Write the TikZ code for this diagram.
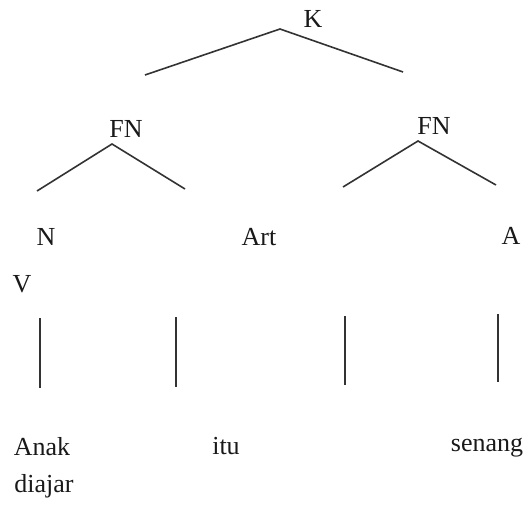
\documentclass[tikz,border=0pt]{standalone}
\usepackage{fontspec}
\setmainfont{Liberation Serif}
\begin{document}
\begin{tikzpicture}[x=1pt,y=-1pt,
  lbl/.style={anchor=base,inner sep=0pt,text=black!90,font=\fontsize{26}{30}\selectfont},
  edge/.style={draw=black!80,line width=1.6pt}]
\useasboundingbox (0,0) rectangle (529,505);
% labels
\node[lbl] (K) at (313,28) {K};
\node[lbl] (FNl) at (126,138) {FN};
\node[lbl] (FNr) at (434,135) {FN};
\node[lbl] (N) at (46,245) {N};
\node[lbl] (Art) at (259,245) {Art};
\node[lbl] (A) at (511,244) {A};
\node[lbl] (V) at (22,292) {V};
\node[lbl] (Anak) at (42,455) {Anak};
\node[lbl] (itu) at (226,454) {itu};
\node[lbl] (senang) at (487,451) {senang};
\node[lbl] (diajar) at (44,492) {diajar};
% line end points
\coordinate (k0) at (280,29);
\coordinate (k1) at (145,75);
\coordinate (k2) at (403,72);
\coordinate (f0) at (112,144);
\coordinate (f1) at (37,191);
\coordinate (f2) at (185,189);
\coordinate (g0) at (418,141);
\coordinate (g1) at (343,187);
\coordinate (g2) at (496,185);
\coordinate (v1a) at (40,318);
\coordinate (v1b) at (40,388);
\coordinate (v2a) at (176,317);
\coordinate (v2b) at (176,387);
\coordinate (v3a) at (345,316);
\coordinate (v3b) at (345,385);
\coordinate (v4a) at (498,314);
\coordinate (v4b) at (498,382);
% lines
\draw[edge] (k1) -- (k0) -- (k2);
\draw[edge] (f1) -- (f0) -- (f2);
\draw[edge] (g1) -- (g0) -- (g2);
\draw[edge] (v1a) -- (v1b);
\draw[edge] (v2a) -- (v2b);
\draw[edge] (v3a) -- (v3b);
\draw[edge] (v4a) -- (v4b);
\end{tikzpicture}
\end{document}
